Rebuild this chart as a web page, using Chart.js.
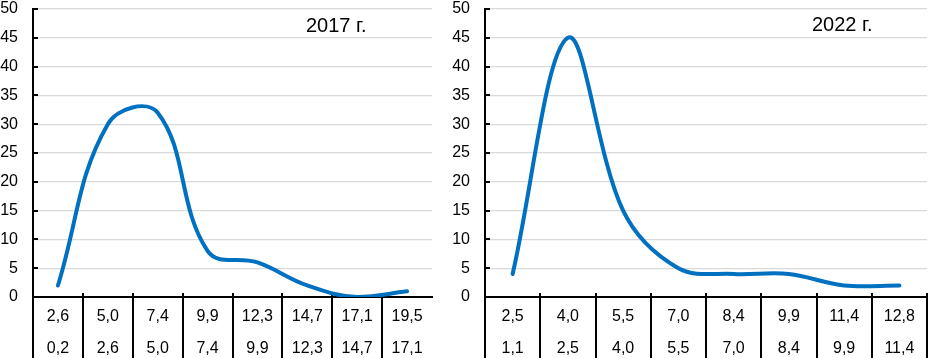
<!DOCTYPE html>
<html>
<head>
<meta charset="utf-8">
<script src="https://cdn.jsdelivr.net/npm/chart.js@4.4.1/dist/chart.umd.min.js"></script>
<style>
  html, body { margin: 0; padding: 0; background: #fff; }
  body { width: 928px; height: 358px; position: relative; overflow: hidden; font-family: "Liberation Sans", Arial, sans-serif; }
  .box { position: absolute; top: 0; height: 358px; }
  #box2017 { left: 0; width: 440px; }
  #box2022 { left: 448px; width: 480px; }
  .year { position: absolute; font-size: 20px; line-height: 22px; color: #000; white-space: nowrap; }
  #year2017 { left: 306px; top: 14px; }
  #year2022 { left: 364px; top: 13px; }
</style>
</head>
<body>
<div class="box" id="box2017">
  <canvas id="chart2017" width="440" height="358"></canvas>
  <div class="year" id="year2017">2017 г.</div>
</div>
<div class="box" id="box2022">
  <canvas id="chart2022" width="480" height="358"></canvas>
  <div class="year" id="year2022">2022 г.</div>
</div>
<script>
// interval bounds (upper row / lower row) and share of values, %
const upper2017 = ["2,6", "5,0", "7,4", "9,9", "12,3", "14,7", "17,1", "19,5"];
const lower2017 = ["0,2", "2,6", "5,0", "7,4", "9,9", "12,3", "14,7", "17,1"];
const values2017 = [2, 30, 32, 8, 6, 2, 0, 1];

const upper2022 = ["2,5", "4,0", "5,5", "7,0", "8,4", "9,9", "11,4", "12,8"];
const lower2022 = ["1,1", "2,5", "4,0", "5,5", "7,0", "8,4", "9,9", "11,4"];
const values2022 = [4, 45, 15, 5, 4, 4, 2, 2];

const yMin = 0;
const yMax = 50;
const yStep = 5;

const FONT = "'Liberation Sans', Arial, sans-serif";

// category dividers under the axis + short inside ticks on the value axis
const tablePlugin = {
  id: "table",
  beforeDatasetsDraw(chart, args, opts) {
    const { ctx, scales: { x, y } } = chart;
    const n = chart.data.labels.length;
    ctx.save();
    ctx.strokeStyle = "#000";
    ctx.lineWidth = 2;
    ctx.beginPath();
    for (let i = 0; i <= n; i++) {
      if (i === n && !opts.closeRight) continue;
      const px = Math.round(x.getPixelForValue(i - 0.5));
      ctx.moveTo(px, i === 0 ? y.bottom : y.bottom - 4);
      ctx.lineTo(px, chart.height);
    }
    y.ticks.forEach(t => {
      const py = Math.round(y.getPixelForValue(t.value));
      ctx.moveTo(x.left, py);
      ctx.lineTo(x.left + 5, py);
    });
    ctx.stroke();
    ctx.restore();
  }
};

function makeChart(id, upper, lower, values, axisWidth, padRight, closeRight, tension) {
  return new Chart(document.getElementById(id), {
    type: "line",
    data: {
      labels: upper.map((u, i) => [u, lower[i]]),
      datasets: [{
        data: values,
        borderColor: "#0070c0",
        borderWidth: 4,
        pointRadius: 0,
        tension,
        borderCapStyle: "round",
        borderJoinStyle: "round",
        fill: false
      }]
    },
    options: {
      responsive: false,
      animation: false,
      events: [],
      layout: { padding: { top: 9, right: padRight, left: 0, bottom: 0 } },
      plugins: {
        legend: { display: false },
        tooltip: { enabled: false },
        table: { closeRight }
      },
      scales: {
        x: {
          offset: true,
          grid: { display: false, drawTicks: false },
          border: { display: true, color: "#000", width: 2 },
          ticks: {
            color: "#000",
            font: { family: FONT, size: 16, lineHeight: 1.97 },
            padding: 4,
            maxRotation: 0,
            autoSkip: false
          },
          afterFit(scale) { scale.height = 61; }
        },
        y: {
          min: yMin,
          max: yMax,
          ticks: {
            stepSize: yStep,
            color: "#000",
            font: { family: FONT, size: 16, lineHeight: 1 },
            padding: 15
          },
          grid: { color: "#d9d9d9", lineWidth: 1.3, drawTicks: false },
          border: { display: true, color: "#000", width: 2 },
          afterFit(scale) {
            scale.width = axisWidth;
            scale.paddingTop = 0;
            scale.paddingBottom = 0;
          }
        }
      }
    },
    plugins: [tablePlugin]
  });
}

makeChart("chart2017", upper2017, lower2017, values2017, 33, 8, false, 0.4);
makeChart("chart2022", upper2022, lower2022, values2022, 37, 1, true, 0.35);
</script>
</body>
</html>
